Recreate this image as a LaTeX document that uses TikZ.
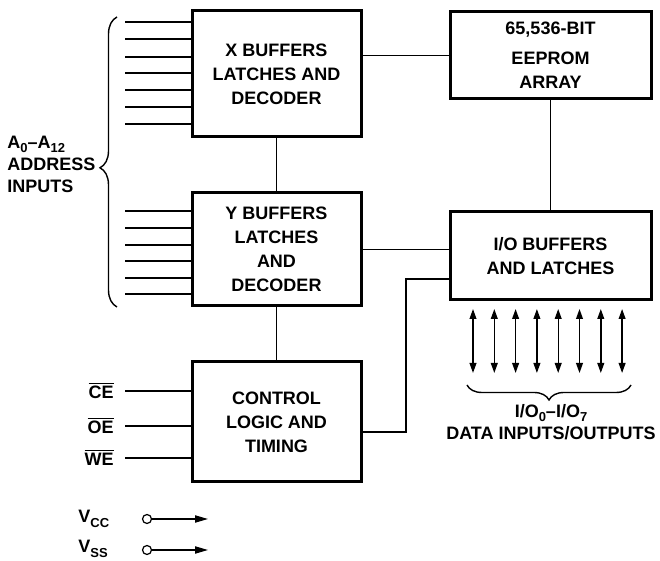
\documentclass[tikz,border=0pt]{standalone}
\usepackage{fontspec}
\setmainfont{Liberation Sans}
\usetikzlibrary{arrows.meta,decorations.pathreplacing}

\newcommand{\lowsub}[1]{\raisebox{-0.45ex}{\fontsize{6.5}{7}\selectfont #1}}

\tikzset{
  block/.style={draw, line width=1.5pt, align=center, minimum width=84.5pt,
    font=\bfseries\fontsize{9}{12}\selectfont},
  wire/.style={line width=0.7pt},
  lbl/.style={font=\bfseries\fontsize{9}{11}\selectfont, inner sep=0pt},
  dbl/.style={wire, {Triangle[length=5pt,width=3.4pt]}-{Triangle[length=5pt,width=3.4pt]}},
  pwr/.style={wire, -{Triangle[length=6.5pt,width=3.6pt]}},
}

\begin{document}
\begin{tikzpicture}[x=0.5pt, y=-0.5pt]
    \useasboundingbox (0,0) rectangle (660,561);
    % blocks
    \node[block, minimum height=63pt] (xbuf) at (276.5,74) {X BUFFERS\\LATCHES AND\\DECODER};
    \node[block, minimum height=56.5pt] (ybuf) at (276.5,249.5) {Y BUFFERS\\LATCHES\\AND\\DECODER};
    \node[block, minimum height=60pt] (ctrl) at (276.5,422) {CONTROL\\LOGIC AND\\TIMING};
    \node[block, minimum width=100.5pt, minimum height=43.5pt] (eeprom) at (550.5,55.5) {65,536-BIT\\[3pt]EEPROM\\ARRAY};
    \node[block, minimum width=100.5pt, minimum height=44pt] (iobuf) at (550.5,256) {I/O BUFFERS\\AND LATCHES};

    % links between blocks
    \draw[wire] (xbuf) -- (ybuf);
    \draw[wire] (ybuf) -- (ctrl);
    \draw[wire] (eeprom) -- (iobuf);
    \draw[wire] (eeprom.west) -- (eeprom.west -| xbuf.east);
    \draw[wire] (ybuf.east) -- (ybuf.east -| iobuf.west);
    \coordinate (bend) at (406,279);
    \draw[wire] ([yshift=-5pt]ctrl.east) -| (bend) -- (bend -| iobuf.west);

    % address lines
    \draw[wire] (125,22) -- (xbuf.west |- 125,22);
    \draw[wire] (125,39) -- (xbuf.west |- 125,39);
    \draw[wire] (125,57) -- (xbuf.west |- 125,57);
    \draw[wire] (125,73) -- (xbuf.west |- 125,73);
    \draw[wire] (125,90) -- (xbuf.west |- 125,90);
    \draw[wire] (125,107) -- (xbuf.west |- 125,107);
    \draw[wire] (125,124) -- (xbuf.west |- 125,124);
    \draw[wire] (125,211) -- (ybuf.west |- 125,211);
    \draw[wire] (125,228) -- (ybuf.west |- 125,228);
    \draw[wire] (125,245) -- (ybuf.west |- 125,245);
    \draw[wire] (125,261) -- (ybuf.west |- 125,261);
    \draw[wire] (125,278) -- (ybuf.west |- 125,278);
    \draw[wire] (125,294) -- (ybuf.west |- 125,294);
    \draw[wire, decorate, decoration={brace, amplitude=8.5pt, aspect=0.48}] (117,307) -- (117,17);
    \node[lbl, align=left, anchor=west] (addr) at (7,164) {A\lowsub{0}--A\lowsub{12}\\ADDRESS\\INPUTS};

    % control inputs
    \draw[wire] (125,391) -- (ctrl.west |- 125,391);
    \draw[wire] (125,426) -- (ctrl.west |- 125,426);
    \draw[wire] (125,458) -- (ctrl.west |- 125,458);
    \node[lbl, anchor=base east] (ce) at (114,399) {$\overline{\mbox{CE}}$};
    \node[lbl, anchor=base east] (oe) at (114,434) {$\overline{\mbox{OE}}$};
    \node[lbl, anchor=base east] (we) at (114,466) {$\overline{\mbox{WE}}$};

    % supply
    \node[lbl, anchor=base west] (vcclbl) at (78,523) {V\lowsub{CC}};
    \node[lbl, anchor=base west] (vsslbl) at (78,553) {V\lowsub{SS}};
    \node[circle, draw, line width=0.6pt, inner sep=0pt, minimum size=4.5pt] (vcc) at (147,519) {};
    \node[circle, draw, line width=0.6pt, inner sep=0pt, minimum size=4.5pt] (vss) at (147,550) {};
    \coordinate (vccend) at (208,519);
    \coordinate (vssend) at (208,550);
    \draw[pwr] (vcc) -- (vccend);
    \draw[pwr] (vss) -- (vssend);

    % data lines
    \draw[dbl] (473,309) -- (473,373);
    \draw[dbl] (494.3,309) -- (494.3,373);
    \draw[dbl] (515.6,309) -- (515.6,373);
    \draw[dbl] (536.9,309) -- (536.9,373);
    \draw[dbl] (558.2,309) -- (558.2,373);
    \draw[dbl] (579.5,309) -- (579.5,373);
    \draw[dbl] (600.8,309) -- (600.8,373);
    \draw[dbl] (622.1,309) -- (622.1,373);
    \draw[wire, decorate, decoration={brace, mirror, amplitude=7.5pt}] (467,385) -- (631,385);
    \node[lbl, align=center] (iolbl) at (551,422) {I/O\lowsub{0}--I/O\lowsub{7}\\DATA INPUTS/OUTPUTS};
\end{tikzpicture}
\end{document}
